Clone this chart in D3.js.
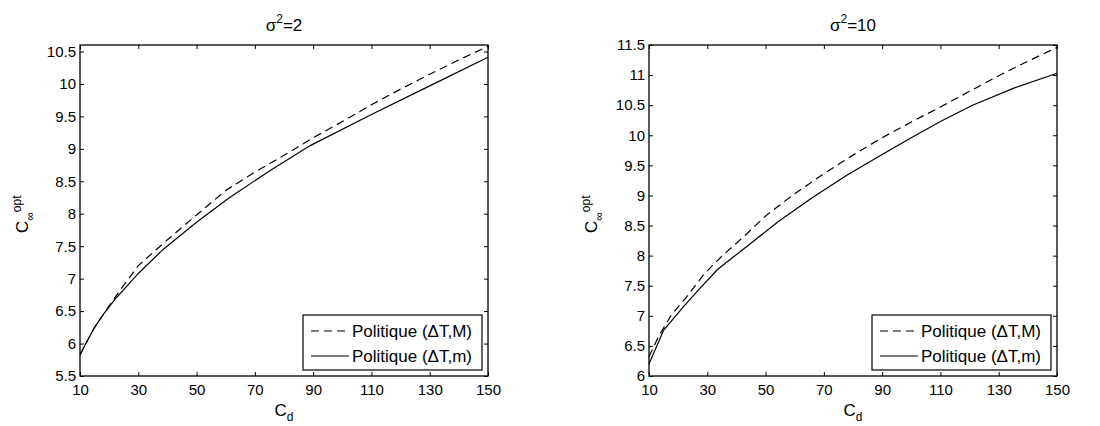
<!DOCTYPE html>
<html><head><meta charset="utf-8">
<script src="https://cdn.jsdelivr.net/npm/d3@7"></script>
<style>
body{margin:0;background:#fff;}
text{font-family:"Liberation Sans",Arial,sans-serif;fill:#000;}
</style></head>
<body><svg id="chart" width="1100" height="426"></svg>
<script>
const xTicks = [10,30,50,70,90,110,130,150];
const titles = ["2","10"];
const legendLabels = ["Politique (\u0394T,M)","Politique (\u0394T,m)"];

// Panel 1: sigma^2 = 2
const p1X_M = [10,15,20,25,30,40,50,60,70,80,90,100,110,120,130,140,150];
const p1Y_M = [5.83,6.25,6.58,6.9,7.2,7.6,7.98,8.36,8.64,8.9,9.17,9.42,9.68,9.92,10.15,10.37,10.58];
const p1X_m = [10,12,15,18,22,30,38.5,50,61,75,89,110,130,150];
const p1Y_m = [5.82,6.0,6.25,6.45,6.68,7.08,7.45,7.87,8.24,8.66,9.05,9.53,9.97,10.41];
const p1YTicks = [5.5,6,6.5,7,7.5,8,8.5,9,9.5,10,10.5];
const p1YDomain = [5.5,10.6];

// Panel 2: sigma^2 = 10
const p2X_M = [10,13.2,17.6,23,29,35,43.5,50,60,70,80,90,100,110,120,130,140,150];
const p2Y_M = [6.32,6.65,7.01,7.32,7.7,7.99,8.36,8.66,9.03,9.36,9.67,9.96,10.22,10.47,10.73,10.99,11.23,11.46];
const p2X_m = [10,15,22,27,33.5,44,54.5,66,78,90,100,110,121,135,150];
const p2Y_m = [6.2,6.76,7.16,7.43,7.77,8.17,8.57,8.96,9.34,9.68,9.96,10.23,10.5,10.78,11.03];
const p2YTicks = [6,6.5,7,7.5,8,8.5,9,9.5,10,10.5,11,11.5];
const p2YDomain = [6,11.5];

const svg = d3.select("#chart");
const panels = [
  {left:80, right:488, xM:p1X_M, yM:p1Y_M, xm:p1X_m, ym:p1Y_m, yTicks:p1YTicks, yDomain:p1YDomain, title:titles[0]},
  {left:649, right:1057, xM:p2X_M, yM:p2Y_M, xm:p2X_m, ym:p2Y_m, yTicks:p2YTicks, yDomain:p2YDomain, title:titles[1]}
];
const plotTop = 45, plotBottom = 376;
const fs = 15;

panels.forEach(p => {
  const x = d3.scaleLinear().domain([10,150]).range([p.left,p.right]);
  const y = d3.scaleLinear().domain(p.yDomain).range([plotBottom,plotTop]);
  const g = svg.append("g");
  const tl = 4;
  const ax = g.append("g").attr("transform",`translate(0,${plotBottom})`)
    .call(d3.axisBottom(x).tickValues(xTicks).tickSize(-tl).tickPadding(8).tickFormat(d3.format("d")));
  const axT = g.append("g").attr("transform",`translate(0,${plotTop})`)
    .call(d3.axisTop(x).tickValues(xTicks).tickSize(-tl).tickFormat(""));
  const ay = g.append("g").attr("transform",`translate(${p.left},0)`)
    .call(d3.axisLeft(y).tickValues(p.yTicks).tickSize(-tl).tickPadding(4).tickFormat(d=>String(d)));
  const ayR = g.append("g").attr("transform",`translate(${p.right},0)`)
    .call(d3.axisRight(y).tickValues(p.yTicks).tickSize(-tl).tickFormat(""));
  [ax,axT,ay,ayR].forEach(a=>{
    a.select(".domain").remove();
    a.selectAll("line").attr("stroke","#000").attr("stroke-width",1);
    a.selectAll("text").attr("font-size",fs).attr("font-family","Liberation Sans, Arial, sans-serif").attr("fill","#000");
  });
  g.append("rect").attr("x",p.left).attr("y",plotTop).attr("width",p.right-p.left).attr("height",plotBottom-plotTop)
    .attr("fill","none").attr("stroke","#000").attr("stroke-width",1.3);

  const line = d3.line().x(d=>x(d[0])).y(d=>y(d[1]));
  const dM = p.xM.map((v,i)=>[v,p.yM[i]]);
  const dm = p.xm.map((v,i)=>[v,p.ym[i]]);
  g.append("path").attr("d",line(dM)).attr("fill","none").attr("stroke","#000").attr("stroke-width",1.2).attr("stroke-dasharray","8,5");
  g.append("path").attr("d",line(dm)).attr("fill","none").attr("stroke","#000").attr("stroke-width",1.2);

  const cx = (p.left+p.right)/2;
  const t = g.append("text").attr("x",cx).attr("y",31).attr("text-anchor","middle").attr("font-size",17);
  t.append("tspan").text("\u03c3");
  t.append("tspan").attr("font-size",12).attr("dy",-8).text("2");
  t.append("tspan").attr("dy",8).text("="+p.title);

  const xl = g.append("text").attr("x",cx).attr("y",416).attr("text-anchor","middle").attr("font-size",17);
  xl.append("tspan").text("C");
  xl.append("tspan").attr("font-size",12).attr("dy",5).text("d");

  const yl = g.append("text").attr("transform",`translate(${p.left-52},233) rotate(-90)`)
    .attr("text-anchor","start").attr("font-size",17);
  yl.append("tspan").text("C");
  yl.append("tspan").attr("font-size",12).attr("dy",6).text("\u221e");
  yl.append("tspan").attr("font-size",12).attr("dy",-13).text("opt");

  const lx = p.right-185, ly = 315, lw = 179, lh = 55;
  const lg = g.append("g");
  lg.append("rect").attr("x",lx).attr("y",ly).attr("width",lw).attr("height",lh).attr("fill","#fff").attr("stroke","#000").attr("stroke-width",1.2);
  [0,1].forEach(i=>{
    const yy = ly + 16 + i*25;
    lg.append("line").attr("x1",lx+8).attr("x2",lx+46).attr("y1",yy).attr("y2",yy)
      .attr("stroke","#000").attr("stroke-width",1.2).attr("stroke-dasharray", i===0?"8,5":null);
    lg.append("text").attr("x",lx+49).attr("y",yy).attr("dy","0.35em").attr("font-size",17).text(legendLabels[i]);
  });
});
</script></body></html>
